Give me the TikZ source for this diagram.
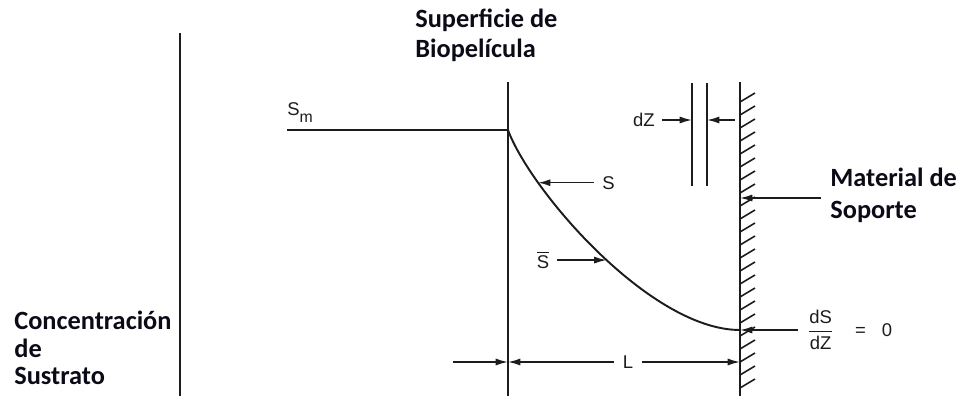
\documentclass[tikz,border=0pt]{standalone}
\usepackage{fontspec}
\setmainfont{Liberation Sans}
\newfontfamily\boldlbl{Carlito}
\usetikzlibrary{arrows.meta}
\definecolor{ink}{HTML}{1C1C1C}
\definecolor{lbl}{HTML}{0B0B18}
\tikzset{
  ln/.style={line width=1.1pt,draw=ink},
  hatch/.style={line width=0.9pt,draw=ink},
  ar/.style={-{Latex[length=7pt,width=4pt]},line width=0.9pt,draw=ink},
  bl/.style={font=\boldlbl\bfseries\fontsize{15}{#1}\selectfont,text=lbl,align=left,inner sep=0pt},
  bl/.default=17,
  tl/.style={font=\fontsize{10.5}{12}\selectfont,text=ink,inner sep=0pt},
}

\begin{document}
\begin{tikzpicture}[x=0.02cm,y=-0.02cm]
  \useasboundingbox (0,0) rectangle (961,396);
  \coordinate (ax0) at (180,33); \coordinate (ax1) at (180,396);
  \coordinate (sm0) at (287,130); \coordinate (sf) at (508,130);
  \coordinate (sf0) at (508,82); \coordinate (sf1) at (508,396);
  \coordinate (w0) at (740,82); \coordinate (w1) at (740,396);
  \coordinate (wb) at (740,330);
  \coordinate (wm) at (740,198);
  \coordinate (za0) at (692,83); \coordinate (za1) at (692,186);
  \coordinate (zb0) at (707,83); \coordinate (zb1) at (707,186);
  \draw[ln] (ax0) -- (ax1);
  \draw[ln] (sf0) -- (sf1);
  \draw[ln] (w0) -- (w1);
  \draw[ln,line width=0.9pt] (za0) -- (za1) (zb0) -- (zb1);
  \foreach \i in {0,...,22}{\draw[hatch] (740,{102+13*\i}) -- ++(15,-9);}
  \draw[ln] (sm0) -- (sf) .. controls (530,190) and (650,330) .. (wb)
    coordinate[pos=0.235] (sc) coordinate[pos=0.53] (sbc);

  \node[tl,anchor=base west] (sm) at (287,115) {S\raisebox{-4.5pt}{\fontsize{9}{9}\selectfont m}};
  \node[tl,anchor=west] (s) at ([xshift=1.28cm]sc) {S};
  \draw[ar,shorten <=4.5pt] (s.west) -- (sc);
  \node[tl,anchor=east] (sb) at ([xshift=-1.14cm]sbc) {$\overline{\hbox{S}}$};
  \draw[ar,shorten <=4pt] (sb.east) -- (sbc);

  \node[tl,anchor=east] (dz) at (655,120) {dZ};
  \draw[ar,shorten <=4pt] (dz.east) -- (dz.east -| za0);
  \draw[ar,shorten <=3pt] (dz.east -| w0) -- (dz.east -| zb0);

  \node[tl,anchor=west] (ds) at (807,330) {$\displaystyle\frac{\hbox{dS}}{\hbox{dZ}}$\hspace{12pt}=\hspace{9pt}0};
  \draw[ar,shorten <=5pt] (ds.west) -- (wb);

  \coordinate (la) at (453,362);
  \coordinate (lb) at (sf1 |- la);
  \coordinate (lc) at (w1 |- la);
  \node[tl] (l) at (628,362) {L};
  \draw[ar] (la) -- (lb);
  \draw[ar,shorten <=5pt] (l.west) -- (lb);
  \draw[ar,shorten <=5pt] (l.east) -- (lc);

  \node[bl,anchor=north west] (surf) at (415,9) {Superficie de\\Biopelícula};
  \node[bl=18,anchor=north west] (mat) at (830,168) {Material de\\Soporte};
  \draw[ar,shorten <=5pt] (mat.west |- wm) -- (wm);
  \node[bl=15.6,anchor=north west] (conc) at (14,311) {Concentración\\de\\Sustrato};
\end{tikzpicture}
\end{document}
